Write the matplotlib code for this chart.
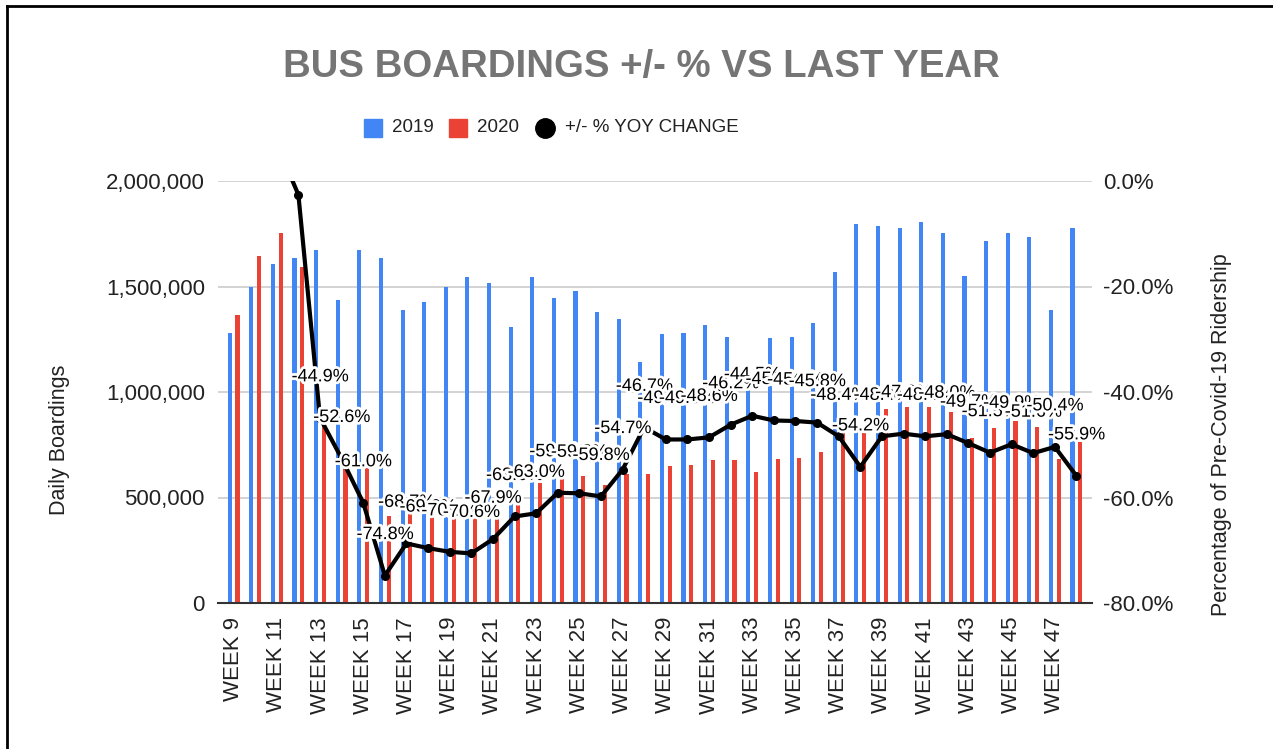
import matplotlib
matplotlib.use("Agg")
import matplotlib.pyplot as plt
import matplotlib.patheffects as pe
from matplotlib.lines import Line2D
from matplotlib.ticker import FuncFormatter
import numpy as np

plt.rcParams['font.family'] = ['Liberation Sans', 'DejaVu Sans']

# weekly data
weeks = list(range(9, 49))
boardings_2019 = [1281000, 1499000, 1607000, 1634000, 1673000, 1436000, 1673000, 1634000,
                  1389000, 1425000, 1499000, 1544000, 1515000, 1309000, 1544000, 1444000,
                  1480000, 1381000, 1345000, 1144000, 1275000, 1281000, 1318000, 1262000,
                  1120000, 1255000, 1262000, 1325000, 1570000, 1796000, 1787000, 1779000,
                  1807000, 1752000, 1550000, 1716000, 1752000, 1733000, 1389000, 1776000]
boardings_2020 = [1365000, 1645000, 1755000, 1591000, 922000, 680000, 650000, 412000,
                  432000, 432000, 442000, 452000, 486000, 472000, 568000, 586000,
                  603000, 557000, 610000, 610000, 648000, 654000, 676000, 680000,
                  620000, 683000, 686000, 717000, 810000, 823000, 918000, 927000,
                  927000, 905000, 783000, 828000, 864000, 835000, 683000, 765000]
yoy_change = [6.5, 9.5, 7.0, -2.6, -44.9, -52.6, -61.0, -74.8,
              -68.7, -69.6, -70.3, -70.6, -67.9, -63.6, -63.0, -59.1,
              -59.2, -59.8, -54.7, -46.7, -49.0, -49.0, -48.6, -46.2,
              -44.5, -45.4, -45.5, -45.8, -48.4, -54.2, -48.4, -47.9,
              -48.4, -48.0, -49.7, -51.5, -49.9, -51.6, -50.4, -55.9]
legend_labels = ['2019', '2020', '+/- % YOY CHANGE']

BLUE = '#4285F4'
RED = '#EA4335'
W, H = 1273, 749

fig = plt.figure(figsize=(W / 100, H / 100), dpi=100)
ax = fig.add_axes([218 / W, 1 - 603 / H, (1092 - 218) / W, (603 - 181) / H])

x = np.arange(len(weeks))
ax.bar(x - 0.18, boardings_2019, width=0.19, color=BLUE, zorder=2)
ax.bar(x + 0.18, boardings_2020, width=0.19, color=RED, zorder=2)

ax.set_xlim(-0.72, len(weeks) - 0.28)
ax.set_ylim(0, 2000000)
ax.set_yticks([0, 500000, 1000000, 1500000, 2000000])
ax.yaxis.set_major_formatter(FuncFormatter(lambda v, p: f"{v:,.0f}"))
ax.grid(axis='y', color='#cccccc', linewidth=1.2, zorder=0)
ax.set_axisbelow(True)
for s in ['top', 'right', 'left']:
    ax.spines[s].set_visible(False)
ax.spines['bottom'].set_color('#333333')
ax.spines['bottom'].set_linewidth(1.5)
ax.spines['bottom'].set_zorder(3)

ax.set_xticks(x[::2])
ax.set_xticklabels([f"WEEK {w}" for w in weeks[::2]], rotation=90)
ax.tick_params(axis='x', length=0, pad=10, labelsize=16, labelcolor='#222222')
ax.tick_params(axis='y', length=0, pad=9.5, labelsize=16, labelcolor='#222222')

ax2 = ax.twinx()
ax2.set_ylim(-80, 0)
ax2.set_yticks([0, -20, -40, -60, -80])
ax2.yaxis.set_major_formatter(FuncFormatter(lambda v, p: f"{v:.1f}%"))
ax2.tick_params(axis='y', length=0, pad=8, labelsize=16, labelcolor='#222222')
for s in ax2.spines.values():
    s.set_visible(False)

ax2.plot(x, yoy_change, color='black', linewidth=3, marker='o', markersize=5.5, zorder=4)
for xi, p in zip(x, yoy_change):
    if p > -10:
        continue
    ax2.annotate(f"{p:.1f}%", (xi, p), xytext=(0, 29.5), textcoords='offset points',
                 ha='center', va='center', fontsize=13, color='black', zorder=5,
                 path_effects=[pe.withStroke(linewidth=4, foreground='white')])

fig.text(641 / W, 1 - 66.5 / H, "BUS BOARDINGS +/- % VS LAST YEAR", ha='center', va='center',
         fontsize=27.6, fontweight='bold', color='#757575')
fig.text(60 / W, 1 - 439.5 / H, "Daily Boardings", rotation=90, ha='center', va='center',
         fontsize=15.5, color='#222222')
fig.text(1222 / W, 1 - 435 / H, "Percentage of Pre-Covid-19 Ridership", rotation=90,
         ha='center', va='center', fontsize=15.5, color='#222222')

# legend, laid out by hand to follow the reference spacing
leg_y = 1 - 128 / H
leg_marks = [('s', BLUE, 13, 372.5, 392), ('s', RED, 13, 457.5, 477), ('o', 'black', 14, 545, 565)]
for (mk, col, ms, mx, tx), lab in zip(leg_marks, legend_labels):
    fig.add_artist(Line2D([mx / W], [leg_y], marker=mk, markersize=ms, color=col, linestyle='none'))
    fig.text(tx / W, leg_y, lab, ha='left', va='center', fontsize=13.5, color='#222222')

# frame lines of the screenshot
fig.add_artist(Line2D([7 / W, 7 / W], [0, 1 - 5.5 / H], color='black', linewidth=2))
fig.add_artist(Line2D([7 / W, 1], [1 - 5.5 / H, 1 - 5.5 / H], color='black', linewidth=2))

fig.savefig("out.png", dpi=100)
